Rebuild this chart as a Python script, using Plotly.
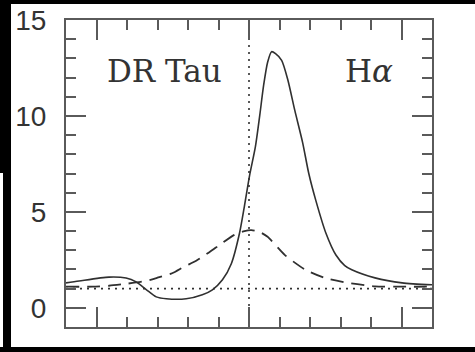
import plotly.graph_objects as go

# H-alpha line profile of DR Tau: velocity (km/s) vs normalised flux
velocity_obs = [-600, -557, -459, -403, -370, -337, -304, -271, -206, -153, -120,
                -87, -58, -31, -15, 2, 21, 35, 48, 61, 74, 87, 107, 127, 150,
                176, 196, 219, 252, 285, 314, 337, 413, 502, 600]
flux_obs = [1.3, 1.4, 1.6, 1.55, 1.35, 0.95, 0.57, 0.47, 0.47, 0.68, 0.94,
            1.46, 2.3, 3.9, 5.3, 6.9, 8.4, 10.0, 11.6, 12.8, 13.35, 13.25, 12.9,
            11.9, 10.3, 8.6, 7.0, 5.6, 3.9, 2.75, 2.2, 1.98, 1.56, 1.30, 1.2]

velocity_model = [-600, -514, -459, -403, -337, -294, -252, -212, -173, -130,
                  -90, -48, -15, 8, 35, 61, 117, 183, 248, 324, 413, 502, 600]
flux_model = [1.1, 1.1, 1.15, 1.25, 1.4, 1.6, 1.8, 2.15, 2.45, 2.9,
              3.35, 3.8, 4.0, 4.05, 3.95, 3.7, 2.76, 2.0, 1.56, 1.3, 1.12, 1.1, 1.1]

continuum_level = 1.0
rest_velocity = 0
v_range = [-600, 600]
flux_range = [-1, 15]

star_label = "DR Tau"
line_label = "H<i>α</i>"

W, H = 475, 352
M_L, M_R, M_T, M_B = 66, 43, 20, 0
plot_w = W - M_L - M_R
plot_h = H - M_T - M_B
split = 25 / plot_h  # height share of the lower (next) panel

frame = "#5a5a5a"
ink = "#303030"

fig = go.Figure()

fig.add_trace(go.Scatter(x=v_range, y=[continuum_level, continuum_level],
                         mode="lines", line=dict(color=ink, width=1.6, dash="2px,5px"),
                         hoverinfo="skip"))
fig.add_trace(go.Scatter(x=[rest_velocity, rest_velocity], y=flux_range,
                         mode="lines", line=dict(color=ink, width=1.6, dash="2px,5px"),
                         hoverinfo="skip"))
fig.add_trace(go.Scatter(x=velocity_model, y=flux_model, mode="lines",
                         line=dict(color=ink, width=1.8, dash="13px,8px", shape="spline",
                                   smoothing=0.6)))
fig.add_trace(go.Scatter(x=velocity_obs, y=flux_obs, mode="lines",
                         line=dict(color=ink, width=1.6, shape="spline", smoothing=0.7)))

tick_style = dict(showline=True, linecolor=frame, linewidth=2, ticks="inside",
                  tickcolor=frame, tickwidth=2, ticklen=20, mirror="ticks",
                  showgrid=False, zeroline=False)

fig.update_layout(
    width=W, height=H,
    margin=dict(l=M_L, r=M_R, t=M_T, b=M_B),
    paper_bgcolor="white", plot_bgcolor="white",
    showlegend=False,
    xaxis=dict(range=v_range, domain=[0, 1], anchor="y", dtick=500, tick0=0,
               showticklabels=False,
               minor=dict(ticks="inside", ticklen=10, dtick=100, tickcolor=frame, tickwidth=2),
               **tick_style),
    yaxis=dict(range=flux_range, domain=[split, 1], anchor="x", dtick=5, tick0=0,
               tickfont=dict(family="Liberation Sans", size=28, color="#333"),
               ticklabelstandoff=12,
               minor=dict(ticks="inside", ticklen=10, dtick=1, tickcolor=frame, tickwidth=2),
               **tick_style),
    xaxis2=dict(range=v_range, domain=[0, 1], anchor="y2", dtick=500, tick0=0,
                showticklabels=False,
                minor=dict(ticks="inside", ticklen=10, dtick=100, tickcolor=frame, tickwidth=2),
                **tick_style),
    yaxis2=dict(range=[0, 1], domain=[0, split], anchor="x2", showticklabels=False,
                showline=True, linecolor=frame, linewidth=2, mirror=True,
                ticks="", showgrid=False, zeroline=False),
)

fig.add_annotation(x=-472, y=12.35, xref="x", yref="y", text=star_label,
                   showarrow=False, xanchor="left", yanchor="middle",
                   font=dict(family="DejaVu Serif", size=31, color="#333"))
fig.add_annotation(x=479, y=12.35, xref="x", yref="y", text=line_label,
                   showarrow=False, xanchor="right", yanchor="middle",
                   font=dict(family="DejaVu Serif", size=31, color="#333"))


def px_box(x0, y0, x1, y1):
    """Pixel rectangle -> paper coordinates."""
    return dict(x0=(x0 - M_L) / plot_w, x1=(x1 - M_L) / plot_w,
                y0=(H - M_B - y1) / plot_h, y1=(H - M_B - y0) / plot_h)


# dark scan border around the page
for box in [(0, 0, W, 4), (0, 0, 11, 173), (3, 173, 11, H), (0, 347, W, H)]:
    fig.add_shape(type="rect", xref="paper", yref="paper", layer="above",
                  fillcolor="black", line=dict(width=0), **px_box(*box))

fig.write_html("out.html")
